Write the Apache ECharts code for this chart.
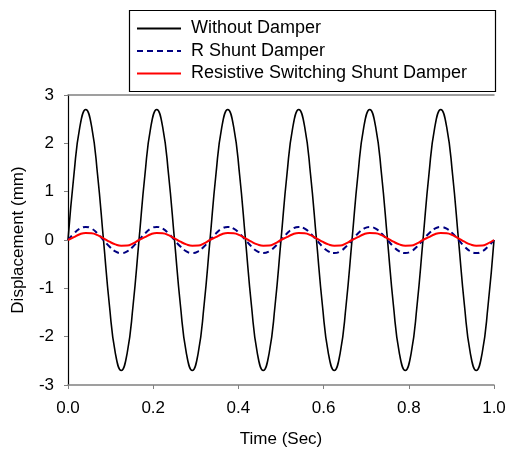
<!DOCTYPE html>
<html>
<head>
<meta charset="utf-8">
<script src="https://cdn.jsdelivr.net/npm/echarts@6/dist/echarts.min.js"></script>
<style>html,body{margin:0;padding:0;background:#fff}#c{width:507px;height:450px}</style>
</head>
<body>
<div id="c"></div>
<script>
var seriesNames = ['Without Damper', 'R Shunt Damper', 'Resistive Switching Shunt Damper'];
var timeSec = [0,0.0139,0.0278,0.0417,0.0556,0.0694,0.0833,0.0972,0.1111,0.125,0.1389,0.1528,
0.1667,0.1806,0.1944,0.2083,0.2222,0.2361,0.25,0.2639,0.2778,0.2917,0.3056,0.3194,
0.3333,0.3472,0.3611,0.375,0.3889,0.4028,0.4167,0.4306,0.4444,0.4583,0.4722,0.4861,
0.5,0.5139,0.5278,0.5417,0.5556,0.5694,0.5833,0.5972,0.6111,0.625,0.6389,0.6528,
0.6667,0.6806,0.6944,0.7083,0.7222,0.7361,0.75,0.7639,0.7778,0.7917,0.8056,0.8194,
0.8333,0.8472,0.8611,0.875,0.8889,0.9028,0.9167,0.9306,0.9444,0.9583,0.9722,0.9861,1];
var withoutDamper = [0,1.35,2.34,2.7,2.34,1.35,0,-1.35,-2.34,-2.7,-2.34,-1.35,
0,1.35,2.34,2.7,2.34,1.35,0,-1.35,-2.34,-2.7,-2.34,-1.35,
0,1.35,2.34,2.7,2.34,1.35,0,-1.35,-2.34,-2.7,-2.34,-1.35,
0,1.35,2.34,2.7,2.34,1.35,0,-1.35,-2.34,-2.7,-2.34,-1.35,
0,1.35,2.34,2.7,2.34,1.35,0,-1.35,-2.34,-2.7,-2.34,-1.35,
0,1.35,2.34,2.7,2.34,1.35,0,-1.35,-2.34,-2.7,-2.34,-1.35,0];
var rShunt = [0,0.135,0.234,0.27,0.234,0.135,0,-0.135,-0.234,-0.27,-0.234,-0.135,
0,0.135,0.234,0.27,0.234,0.135,0,-0.135,-0.234,-0.27,-0.234,-0.135,
0,0.135,0.234,0.27,0.234,0.135,0,-0.135,-0.234,-0.27,-0.234,-0.135,
0,0.135,0.234,0.27,0.234,0.135,0,-0.135,-0.234,-0.27,-0.234,-0.135,
0,0.135,0.234,0.27,0.234,0.135,0,-0.135,-0.234,-0.27,-0.234,-0.135,
0,0.135,0.234,0.27,0.234,0.135,0,-0.135,-0.234,-0.27,-0.234,-0.135,0];
var rsShunt = [0,0.06,0.12,0.145,0.14,0.1,0.035,-0.035,-0.09,-0.118,-0.115,-0.07,
0,0.06,0.12,0.145,0.14,0.1,0.035,-0.035,-0.09,-0.118,-0.115,-0.07,
0,0.06,0.12,0.145,0.14,0.1,0.035,-0.035,-0.09,-0.118,-0.115,-0.07,
0,0.06,0.12,0.145,0.14,0.1,0.035,-0.035,-0.09,-0.118,-0.115,-0.07,
0,0.06,0.12,0.145,0.14,0.1,0.035,-0.035,-0.09,-0.118,-0.115,-0.07,
0,0.06,0.12,0.145,0.14,0.1,0.035,-0.035,-0.09,-0.118,-0.115,-0.07,0];

function pairs(ys){ return timeSec.map(function(t,i){ return [t, ys[i]]; }); }

var font = 'Liberation Sans, Arial, sans-serif';
var chart = echarts.init(document.getElementById('c'), null, {renderer:'canvas'});
chart.setOption({
  animation: false,
  backgroundColor: '#fff',
  grid: {left: 68, right: 13, top: 95, bottom: 65, containLabel: false, outerBoundsMode: 'none'},
  graphic: [{type:'rect', left:127, top:8, shape:{width:366, height:81}, style:{fill:'none', stroke:'#000', lineWidth:1.2}, z:100}],
  legend: {
    orient: 'vertical', left: 136, top: 19.5, padding: 0,
    itemWidth: 44, itemHeight: 14, itemGap: 4.5,
    itemStyle: {opacity: 0},
    textStyle: {fontFamily: font, fontSize: 18, color: '#000', lineHeight: 18, padding:[0,0,0,5]},
    data: seriesNames
  },
  xAxis: [{
    type: 'value', min: 0, max: 1, interval: 0.2,
    axisLine: {show: true, onZero: false, lineStyle: {color: '#808080', width: 1.5}},
    axisTick: {show: true, length: 4, lineStyle: {color: '#808080'}},
    axisLabel: {fontFamily: font, fontSize: 17, color: '#000', margin: 15, formatter: function(v){ return v.toFixed(1); }},
    splitLine: {show: false},
    name: 'Time (Sec)', nameLocation: 'middle', nameGap: 46,
    nameTextStyle: {fontFamily: font, fontSize: 17, color: '#000'}
  },{
    type: 'value', min: 0, max: 1, position: 'top',
    axisLine: {show: true, onZero: false, lineStyle: {color: '#808080', width: 1.5}},
    axisTick: {show: false}, axisLabel: {show: false}, splitLine: {show: false}
  }],
  yAxis: {
    type: 'value', min: -3, max: 3, interval: 1,
    axisLine: {show: true, onZero: false, lineStyle: {color: '#000', width: 1.2}},
    axisTick: {show: true, length: 4, lineStyle: {color: '#808080'}},
    axisLabel: {fontFamily: font, fontSize: 17, color: '#000', margin: 14},
    splitLine: {show: false},
    name: 'Displacement (mm)', nameLocation: 'middle', nameGap: 41,
    nameTextStyle: {fontFamily: font, fontSize: 17, color: '#000'}
  },
  series: [
    {name: seriesNames[0], type: 'line', data: pairs(withoutDamper), smooth: true, symbol: 'none', showSymbol: false,
     lineStyle: {color: '#000', width: 1.6}, itemStyle: {color: '#000'}, z: 3},
    {name: seriesNames[1], type: 'line', data: pairs(rShunt), smooth: true, symbol: 'none', showSymbol: false,
     lineStyle: {color: '#000080', width: 2, type: [6, 4]}, itemStyle: {color: '#000080'}, z: 4},
    {name: seriesNames[2], type: 'line', data: pairs(rsShunt), smooth: true, symbol: 'none', showSymbol: false,
     lineStyle: {color: '#ff0000', width: 2}, itemStyle: {color: '#ff0000'}, z: 5}
  ]
});
</script>
</body>
</html>
